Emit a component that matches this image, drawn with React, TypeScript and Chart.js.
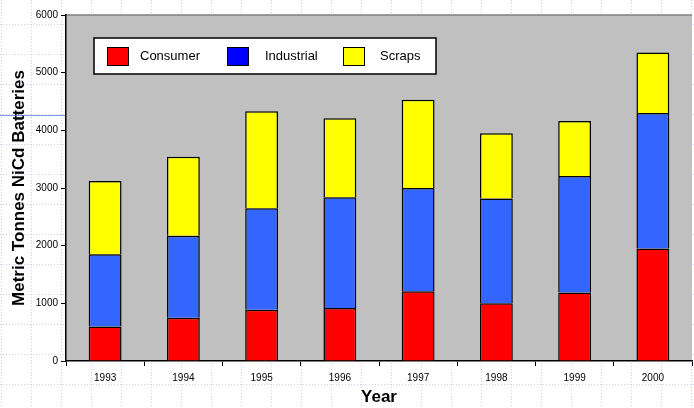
import React, { useEffect, useRef } from "react";
import { Chart, registerables } from "chart.js";

Chart.register(...registerables);

const years = ["1993", "1994", "1995", "1996", "1997", "1998", "1999", "2000"];
const consumer = [600, 750, 890, 920, 1210, 1000, 1190, 1950];
const industrial = [1250, 1420, 1760, 1920, 1790, 1820, 2020, 2350];
const scraps = [1270, 1370, 1680, 1370, 1530, 1130, 950, 1050];
const legendColors = ["#FF0000", "#0000FF", "#FFFF00"];

const FONT = "Arial, 'Liberation Sans', sans-serif";

const bgPlugin = {
  id: "bgPlugin",
  beforeDraw(chart: any) {
    const { ctx, chartArea, width, height } = chart;
    ctx.save();
    ctx.fillStyle = "#ffffff";
    ctx.fillRect(0, 0, width, height);
    ctx.strokeStyle = "#c9d2f5";
    ctx.lineWidth = 1;
    ctx.setLineDash([1, 2]);
    for (let x = 1; x < width; x += 30) {
      ctx.beginPath();
      ctx.moveTo(x + 0.5, 0);
      ctx.lineTo(x + 0.5, height);
      ctx.stroke();
    }
    for (let y = 24; y < height; y += 30) {
      ctx.beginPath();
      ctx.moveTo(0, y + 0.5);
      ctx.lineTo(width, y + 0.5);
      ctx.stroke();
    }
    ctx.setLineDash([]);
    ctx.strokeStyle = "#7f95e8";
    ctx.beginPath();
    ctx.moveTo(0, 115.5);
    ctx.lineTo(chartArea.left, 115.5);
    ctx.stroke();
    ctx.fillStyle = "#C0C0C0";
    ctx.fillRect(chartArea.left, chartArea.top, chartArea.right - chartArea.left, chartArea.bottom - chartArea.top);
    ctx.strokeStyle = "#808080";
    ctx.lineWidth = 1.5;
    ctx.beginPath();
    ctx.moveTo(chartArea.left, chartArea.top);
    ctx.lineTo(chartArea.right, chartArea.top);
    ctx.stroke();
    ctx.restore();
  },
};

const legendPlugin = {
  id: "legendBox",
  afterDatasetsDraw(chart: any) {
    const { ctx, chartArea } = chart;
    const x0 = chartArea.left + 28;
    const y0 = chartArea.top + 23;
    ctx.save();
    ctx.fillStyle = "#ffffff";
    ctx.fillRect(x0, y0, 342, 36);
    ctx.strokeStyle = "#000";
    ctx.lineWidth = 1.5;
    ctx.strokeRect(x0, y0, 342, 36);
    const offs = [13, 133, 249];
    const textOffs = [33, 38, 37];
    chart.data.datasets.forEach((ds: any, i: number) => {
      const bx = x0 + offs[i];
      ctx.fillStyle = legendColors[i];
      ctx.fillRect(bx, y0 + 9, 21, 18);
      ctx.lineWidth = 1;
      ctx.strokeStyle = "#000";
      ctx.strokeRect(bx + 0.5, y0 + 9.5, 21, 18);
      ctx.fillStyle = "#000";
      ctx.font = "13px " + FONT;
      ctx.textBaseline = "middle";
      ctx.textAlign = "left";
      ctx.fillText(ds.label, bx + textOffs[i], y0 + 18.5);
    });
    ctx.restore();
  },
};

export default function App() {
  const ref = useRef<HTMLCanvasElement>(null);
  useEffect(() => {
    document.body.style.margin = "0";
    const common = { borderColor: "#000", borderWidth: 1.5, barPercentage: 0.42, categoryPercentage: 1 };
    const chart = new Chart(ref.current!, {
      type: "bar",
      data: {
        labels: years,
        datasets: [
          { label: "Consumer", data: consumer, backgroundColor: "#FF0000", ...common },
          { label: "Industrial", data: industrial, backgroundColor: "#3366FF", ...common },
          { label: "Scraps", data: scraps, backgroundColor: "#FFFF00", ...common },
        ],
      },
      options: {
        responsive: false,
        animation: false,
        layout: { padding: { top: 15, right: 2, left: 0, bottom: 0 } },
        plugins: { legend: { display: false }, tooltip: { enabled: false } },
        scales: {
          x: {
            stacked: true,
            offset: true,
            grid: { offset: true, drawOnChartArea: false, color: "#000", tickLength: 5, lineWidth: 1 },
            border: { color: "#000", width: 1.5 },
            ticks: { color: "#000", font: { family: FONT, size: 10 }, padding: 6, maxRotation: 0 },
            title: { display: true, text: "Year", color: "#000", font: { family: FONT, size: 17, weight: "bold" }, padding: { top: 1, bottom: 0 } },
            afterFit: (s: any) => { s.height = 47; },
          },
          y: {
            stacked: true,
            min: 0,
            max: 6000,
            ticks: {
              stepSize: 1000,
              color: "#000",
              font: { family: FONT, size: 10 },
              padding: 3,
              callback: (v: any) => String(v),
            },
            grid: { drawOnChartArea: false, color: "#000", tickLength: 5 },
            border: { color: "#000", width: 1.5 },
            title: { display: true, text: "Metric Tonnes NiCd Batteries", color: "#000", font: { family: FONT, size: 17, weight: "bold" }, padding: { top: 9, bottom: 0 } },
            afterFit: (s: any) => { s.width = 66; },
          },
        },
      } as any,
      plugins: [bgPlugin, legendPlugin],
    });
    return () => chart.destroy();
  }, []);
  return (
    <div style={{ position: "absolute", left: 0, top: 0, width: 694, height: 408 }}>
      <canvas ref={ref} width={694} height={408} style={{ display: "block" }} />
    </div>
  );
}
